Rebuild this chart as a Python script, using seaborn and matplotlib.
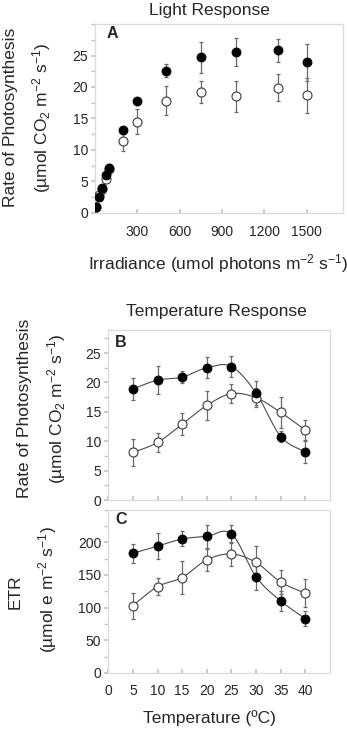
import matplotlib
matplotlib.use("Agg")
import matplotlib.pyplot as plt
import seaborn as sns
import numpy as np
from matplotlib.ticker import MultipleLocator

# Light response (panel A)
irradiance = [10, 25, 50, 75, 100, 200, 300, 500, 750, 1000, 1300, 1500]
light_filled = [1.0, 2.5, 4.0, 6.0, 7.2, 13.1, 17.7, 22.6, 24.7, 25.6, 25.8, 23.9]
light_filled_err = [0.7, 0.5, 0.5, 0.5, 0.6, 0.5, 0.5, 1.0, 2.5, 2.2, 1.8, 3.0]
light_open = [0.9, 2.8, 3.8, 5.4, 6.9, 11.4, 14.5, 17.8, 19.2, 18.5, 19.9, 18.7]
light_open_err = [0.5, 0.5, 0.6, 0.7, 0.8, 1.5, 2.0, 2.3, 1.7, 2.4, 2.2, 2.8]

# Temperature response (panels B and C)
temperature = [5, 10, 15, 20, 25, 30, 35, 40]
ps_filled = [18.9, 20.4, 20.9, 22.5, 22.7, 18.2, 10.8, 8.2]
ps_filled_err = [1.9, 2.4, 1.05, 1.8, 1.85, 2.1, 1.0, 1.9]
ps_open = [8.1, 9.8, 12.9, 16.1, 18.1, 17.4, 14.9, 11.9]
ps_open_err = [2.3, 1.6, 1.9, 2.5, 1.6, 1.6, 2.7, 1.7]
etr_filled = [183, 194, 205, 209, 213, 147, 110, 83]
etr_filled_err = [15, 20, 11.5, 18, 14, 20, 15, 11.5]
etr_open = [103, 132, 146, 173, 182, 169, 139, 122]
etr_open_err = [20, 13, 26, 17, 19, 25, 18, 21]

sns.set_theme(style="white")
plt.rcParams['font.family'] = ['Liberation Sans', 'DejaVu Sans']
plt.rcParams['mathtext.fontset'] = 'custom'
plt.rcParams['mathtext.rm'] = 'Liberation Sans'
plt.rcParams['mathtext.it'] = 'Liberation Sans:italic'
plt.rcParams['mathtext.bf'] = 'Liberation Sans:bold'
plt.rcParams['mathtext.default'] = 'regular'

FRAME = '#dadada'
ERR = '#6a6a6a'
LINE = '#4a4a4a'
FS = 12.5
TICK_FS = 10


def smooth(x, y, n=25):
    # Excel-like smoothed line (Catmull-Rom Bezier through the points)
    P = np.column_stack([np.asarray(x, float), np.asarray(y, float)])
    P = np.vstack([P[0], P, P[-1]])
    t = np.linspace(0, 1, n)[:, None]
    segs = []
    for i in range(1, len(P) - 2):
        p0, p1, p2, p3 = P[i - 1], P[i], P[i + 1], P[i + 2]
        c1 = p1 + (p2 - p0) / 6
        c2 = p2 - (p3 - p1) / 6
        segs.append((1 - t) ** 3 * p1 + 3 * (1 - t) ** 2 * t * c1
                    + 3 * (1 - t) * t ** 2 * c2 + t ** 3 * p2)
    s = np.vstack(segs)
    return s[:, 0], s[:, 1]


def style_axes(ax, xpad=8):
    for sp in ax.spines.values():
        sp.set_color(FRAME)
        sp.set_linewidth(0.9)
    ax.tick_params(axis='y', which='both', direction='out', length=3,
                   color='#c4c4c4', labelsize=TICK_FS, pad=2, left=True)
    ax.tick_params(axis='x', which='both', direction='in', length=3,
                   color='#c4c4c4', labelsize=TICK_FS, pad=xpad, bottom=True)
    ax.set_xlabel('')
    ax.set_ylabel('')


def draw_series(ax, x, y, err, filled, line=False):
    ax.errorbar(x, y, yerr=err, fmt='none', ecolor=ERR, elinewidth=0.9,
                capsize=1.5, capthick=0.9, zorder=2)
    if line:
        sx, sy = smooth(x, y)
        sns.lineplot(x=sx, y=sy, sort=False, estimator=None, ax=ax,
                     color=LINE, linewidth=0.8, zorder=3)
    if filled:
        sns.scatterplot(x=x, y=y, ax=ax, s=42, color='black',
                        edgecolor='black', linewidth=0.6, zorder=5)
    else:
        sns.scatterplot(x=x, y=y, ax=ax, s=42, color='white',
                        edgecolor='#3a3a3a', linewidth=0.8, zorder=4)


fig = plt.figure(figsize=(3.47, 7.29), dpi=100)

# Panel A
axA = fig.add_axes([0.274, 0.708, 0.715, 0.259])
draw_series(axA, irradiance, light_open, light_open_err, filled=False)
draw_series(axA, irradiance, light_filled, light_filled_err, filled=True)
axA.set_xlim(0, 1760)
axA.set_ylim(0, 30)
axA.set_xticks([300, 600, 900, 1200, 1500])
axA.set_yticks([0, 5, 10, 15, 20, 25])
axA.yaxis.set_minor_locator(MultipleLocator(2.5))
style_axes(axA, xpad=9)
axA.text(0.069, 0.952, 'A', transform=axA.transAxes, fontsize=11.5,
         fontweight='bold', va='center', ha='center')

# Panel B
axB = fig.add_axes([0.312, 0.314, 0.639, 0.234])
draw_series(axB, temperature, ps_open, ps_open_err, filled=False, line=True)
draw_series(axB, temperature, ps_filled, ps_filled_err, filled=True, line=True)
axB.set_xlim(0, 45)
axB.set_ylim(0, 29)
axB.set_xticks(range(0, 45, 5))
axB.set_xticklabels([])
axB.set_yticks([0, 5, 10, 15, 20, 25])
axB.yaxis.set_minor_locator(MultipleLocator(2.5))
style_axes(axB)
axB.text(0.057, 0.926, 'B', transform=axB.transAxes, fontsize=11.5,
         fontweight='bold', va='center', ha='center')

# Panel C
axC = fig.add_axes([0.312, 0.077, 0.639, 0.224])
draw_series(axC, temperature, etr_open, etr_open_err, filled=False, line=True)
draw_series(axC, temperature, etr_filled, etr_filled_err, filled=True, line=True)
axC.set_xlim(0, 45)
axC.set_ylim(0, 250)
axC.set_xticks(range(0, 45, 5))
axC.set_yticks([0, 50, 100, 150, 200])
axC.yaxis.set_minor_locator(MultipleLocator(25))
style_axes(axC, xpad=8)
axC.text(0.057, 0.94, 'C', transform=axC.transAxes, fontsize=11.5,
         fontweight='bold', va='center', ha='center')

# Titles and axis labels
fig.text(0.605, 0.986, 'Light Response', fontsize=FS, ha='center', va='center')
fig.text(0.029, 0.839, 'Rate of Photosynthesis', fontsize=FS, rotation=90,
         ha='center', va='center')
fig.text(0.121, 0.839, r'(µmol CO$_2$ m$^{-2}$ s$^{-1}$)', fontsize=FS,
         rotation=90, ha='center', va='center')
fig.text(0.628, 0.639, r'Irradiance (umol photons m$^{-2}$ s$^{-1}$)',
         fontsize=FS, ha='center', va='center')

fig.text(0.625, 0.573, 'Temperature Response', fontsize=FS, ha='center', va='center')
fig.text(0.072, 0.440, 'Rate of Photosynthesis', fontsize=FS, rotation=90,
         ha='center', va='center')
fig.text(0.164, 0.440, r'(µmol CO$_2$ m$^{-2}$ s$^{-1}$)', fontsize=FS,
         rotation=90, ha='center', va='center')

fig.text(0.043, 0.188, 'ETR', fontsize=FS, rotation=90, ha='center', va='center')
fig.text(0.138, 0.191, r'(µmol e m$^{-2}$ s$^{-1}$)', fontsize=FS, rotation=90,
         ha='center', va='center')
fig.text(0.605, 0.015, 'Temperature (ºC)', fontsize=FS, ha='center', va='center')

fig.savefig('out.png', dpi=100)
